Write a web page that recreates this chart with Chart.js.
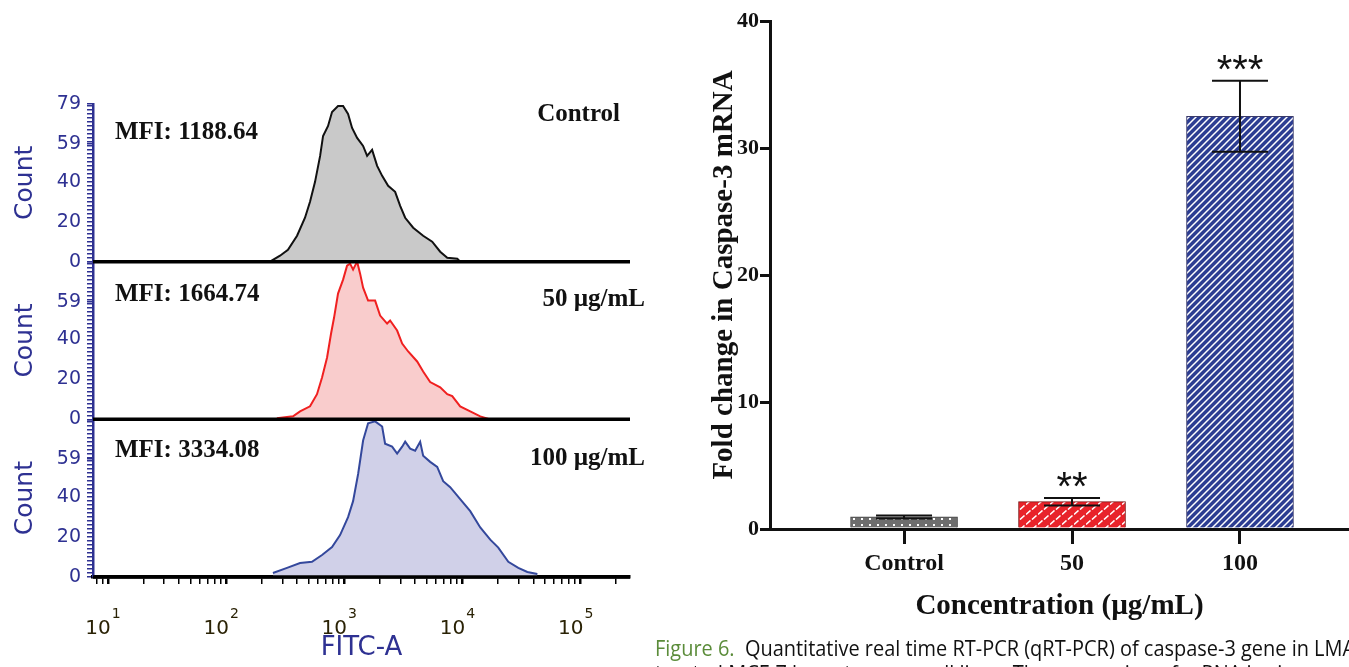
<!DOCTYPE html>
<html>
<head>
<meta charset="utf-8">
<script src="https://cdn.jsdelivr.net/npm/chart.js@4.4.1/dist/chart.umd.min.js"></script>
<style>
  html, body { margin: 0; padding: 0; background: #fff; }
  body { position: relative; width: 1349px; height: 667px; overflow: hidden; }
  #histBox { position: absolute; left: 0; top: 0; width: 660px; height: 667px; }
  #barBox { position: absolute; left: 690px; top: 0; width: 659px; height: 630px; }
  .cap { position: absolute; left: 655px; font-family: "Open Sans", sans-serif; font-size: 21px; color: #111; white-space: nowrap; transform-origin: 0 0; }
  .cap b { color: #5b8c3a; font-weight: normal; }
</style>
</head>
<body>
<div id="histBox"><canvas id="histChart" width="660" height="667"></canvas></div>
<div id="barBox"><canvas id="barChart" width="659" height="630"></canvas></div>
<div class="cap" id="cap1" style="top:634px"><b>Figure 6.</b>&nbsp; Quantitative real time RT-PCR (qRT-PCR) of caspase-3 gene in LMA</div>
<div class="cap" id="cap2" style="top:659px">treated MCF-7 breast cancer cell lines. The expression of mRNA is given and</div>
<script>
// histogramas (FITC-A, escala log)
const ctrlFitc = [236, 287, 335, 400, 467, 515, 568, 627, 664, 732, 791, 889, 981, 1081, 1169, 1290, 1449, 1567, 1727, 1905, 2100, 2360, 2705, 2984, 3290, 3845, 4670, 5570, 6510, 7470, 9080, 9610];
const ctrlCount = [0, 3, 6, 13, 22, 30, 40, 53, 63, 68, 75, 78, 78, 74, 67, 62, 58, 53, 56, 48, 43, 38, 35, 28, 22, 17, 13, 10, 5, 2, 1.5, 0];

const lowFitc = [270, 370, 424, 515, 590, 651, 718, 776, 823, 889, 981, 1060, 1124, 1192, 1290, 1367, 1449, 1597, 1831, 2019, 2313, 2453, 2812, 3102, 3487, 4155, 4670, 5355, 6510, 7470, 8230, 9610, 11690, 14210, 17270];
const lowCount = [0.5, 1.5, 4, 6.5, 12.6, 21, 31, 43, 51, 63, 70, 77, 78, 75, 79, 73, 66, 59.5, 59.5, 52, 48, 49.5, 44.5, 38, 34, 29, 24, 18.7, 16, 12.6, 11.6, 6.5, 4, 1.5, 0];

const highFitc = [250, 329, 424, 535, 651, 791, 925, 1081, 1192, 1315, 1449, 1597, 1831, 2100, 2225, 2550, 2812, 3102, 3290, 3625, 3995, 4405, 4670, 5355, 6140, 6900, 7910, 9610, 11690, 14210, 17270, 20190, 24550, 29830, 35560, 43250];
const highCount = [2, 4.6, 7, 7.6, 11, 15, 21, 30, 38, 51.6, 68.4, 77, 78, 75.4, 66.8, 65.3, 61.8, 65.3, 67.8, 64.3, 63.3, 67.8, 60.8, 57.7, 55.2, 48, 45, 39, 33, 24.8, 18.7, 14.7, 7.6, 4.6, 2.5, 1.5];

const panelNames = ['Control', '50 µg/mL', '100 µg/mL'];
const mfiValues = ['1188.64', '1664.74', '3334.08'];
const countTicks = [0, 20, 40, 59, 79];
const decades = [10, 100, 1000, 10000, 100000];

// qRT-PCR caspase-3
const concLabels = ['Control', '50', '100'];
const foldMean = [0.95, 2.15, 32.5];
const foldErr = [0.12, 0.3, 2.8];
const foldStars = ['', '**', '***'];
const foldTicks = [0, 10, 20, 30, 40];

const blue = '#2e3192';

const toPoints = (xs, ys) => xs.map((x, i) => ({ x: x, y: ys[i] }));

// eixos empilhados: um por painel
const panelAxes = ['y1', 'y2', 'y3'];
const mfiDy = [29, 33, 31];
const nameDy = [11, 38, 39];
const nameRight = [620, 645, 645];

const panelScale = (showTop) => ({
    type: 'linear',
    position: 'left',
    stack: 'hist',
    stackWeight: 1,
    min: 0,
    max: 79,
    afterFit: (s) => { s.width = 93; },
    afterBuildTicks: (s) => {
        const t = [];
        for (let v = 0; v <= 78; v += 2) t.push(v);
        countTicks.forEach(v => { if (!t.includes(v)) t.push(v); });
        t.sort((a, b) => a - b);
        s.ticks = t.map(v => ({ value: v }));
    },
    ticks: {
        autoSkip: false,
        padding: 6,
        color: blue,
        font: { family: 'DejaVu Sans', size: 19 },
        callback: (v) => (countTicks.includes(v) && (v !== 79 || showTop)) ? String(v) : ''
    },
    grid: { drawOnChartArea: false, tickLength: 6, color: blue, lineWidth: 1.5 },
    border: { display: true, color: blue, width: 2.5 },
    title: {
        display: true, text: 'Count', color: blue,
        font: { family: 'DejaVu Sans', size: 25 },
        padding: { top: 10, bottom: 0 }
    }
});

const panelLayer = {
    id: 'panelLayer',
    afterDatasetsDraw(chart) {
        const { ctx, chartArea } = chart;
        ctx.save();
        panelAxes.forEach((id, i) => {
            const s = chart.scales[id];
            const y0 = s.getPixelForValue(0);
            ctx.strokeStyle = '#000';
            ctx.lineWidth = 3.5;
            ctx.beginPath();
            ctx.moveTo(chartArea.left, y0);
            ctx.lineTo(chartArea.right, y0);
            ctx.stroke();

            ctx.fillStyle = '#111';
            ctx.font = 'bold 25px "Liberation Serif"';
            ctx.textBaseline = 'middle';
            ctx.textAlign = 'left';
            ctx.fillText('MFI: ' + mfiValues[i], chartArea.left + 22, s.top + mfiDy[i]);
            ctx.textAlign = 'right';
            ctx.fillText(panelNames[i], nameRight[i], s.top + nameDy[i]);
        });

        // rótulos 10^n do eixo x
        const x = chart.scales.x;
        ctx.fillStyle = '#2a2205';
        ctx.textAlign = 'left';
        ctx.textBaseline = 'middle';
        decades.forEach((v, i) => {
            const px = x.getPixelForValue(v);
            ctx.font = '20px "DejaVu Sans"';
            const w1 = ctx.measureText('10').width;
            const x0 = px - w1 + 3;
            ctx.fillText('10', x0, x.top + 52);
            ctx.font = '14px "DejaVu Sans"';
            ctx.fillText(String(i + 1), x0 + w1 + 1, x.top + 37);
        });
        ctx.restore();
    }
};

const histLine = (xs, ys, axis, line, fill) => ({
    data: toPoints(xs, ys),
    yAxisID: axis,
    borderColor: line,
    backgroundColor: fill,
    borderWidth: 2,
    fill: 'origin',
    pointRadius: 0,
    tension: 0
});

new Chart(document.getElementById('histChart'), {
    type: 'line',
    data: {
        datasets: [
            histLine(ctrlFitc, ctrlCount, 'y1', '#111111', '#c9c9c9'),
            histLine(lowFitc, lowCount, 'y2', '#f02020', '#f9cccc'),
            histLine(highFitc, highCount, 'y3', '#34489c', '#d0d0e8')
        ]
    },
    options: {
        responsive: false,
        animation: false,
        layout: { padding: { top: 104, right: 30, bottom: 0, left: 0 } },
        plugins: { legend: { display: false }, tooltip: { enabled: false } },
        scales: {
            x: {
                type: 'logarithmic',
                min: 7.5,
                max: 263000,
                afterFit: (s) => { s.height = 90; },
                afterBuildTicks: (s) => {
                    const t = [];
                    for (let e = 0; e <= 5; e++) {
                        for (let m = 1; m <= 9; m++) {
                            const v = m * Math.pow(10, e);
                            if (v >= s.min && v <= s.max) t.push({ value: v });
                        }
                    }
                    s.ticks = t;
                },
                ticks: {
                    autoSkip: false,
                    maxRotation: 0,
                    callback: () => ''
                },
                grid: {
                    drawOnChartArea: false,
                    tickLength: 7,
                    color: '#000',
                    lineWidth: (c) => (c.tick && decades.includes(c.tick.value)) ? 2.5 : 1.5
                },
                border: { display: true, color: '#000', width: 3.5 },
                title: {
                    display: true, text: 'FITC-A', color: blue,
                    font: { family: 'DejaVu Sans', size: 26 },
                    padding: { top: 0, bottom: 3 }
                }
            },
            y3: panelScale(false),
            y2: panelScale(false),
            y1: panelScale(true)
        }
    },
    plugins: [panelLayer]
});

// padrões das barras
const makePattern = (w, h, bg, draw) => {
    const c = document.createElement('canvas');
    c.width = w;
    c.height = h;
    const g = c.getContext('2d');
    g.fillStyle = bg;
    g.fillRect(0, 0, w, h);
    g.strokeStyle = '#fff';
    g.fillStyle = '#fff';
    draw(g);
    return g.createPattern(c, 'repeat');
};

const ctrlPattern = makePattern(8, 6, '#6e6e6e', g => { g.fillRect(3, 2, 2, 2); });
const lowPattern = makePattern(12, 10, '#e8232a', g => {
    g.lineWidth = 1.6;
    g.beginPath();
    g.moveTo(0, 4.5); g.lineTo(4.5, 0.5);
    g.moveTo(6, 9.5); g.lineTo(10.5, 5.5);
    g.stroke();
});
const highPattern = makePattern(7, 7, '#2c3d92', g => {
    g.lineWidth = 1.5;
    g.beginPath();
    g.moveTo(0, 7); g.lineTo(7, 0);
    g.moveTo(-1, 1); g.lineTo(1, -1);
    g.moveTo(6, 8); g.lineTo(8, 6);
    g.stroke();
});

const errorBars = {
    id: 'errorBars',
    afterDatasetsDraw(chart) {
        const { ctx, scales: { x, y } } = chart;
        ctx.save();
        ctx.strokeStyle = '#111';
        ctx.lineWidth = 2;
        foldMean.forEach((m, i) => {
            const px = x.getPixelForValue(i);
            const top = y.getPixelForValue(m + foldErr[i]);
            const bot = y.getPixelForValue(m - foldErr[i]);
            ctx.beginPath();
            ctx.moveTo(px, top); ctx.lineTo(px, bot);
            ctx.moveTo(px - 28, top); ctx.lineTo(px + 28, top);
            ctx.moveTo(px - 28, bot); ctx.lineTo(px + 28, bot);
            ctx.stroke();
            if (foldStars[i]) {
                ctx.fillStyle = '#111';
                ctx.font = '40px "Liberation Sans"';
                ctx.textAlign = 'center';
                ctx.textBaseline = 'alphabetic';
                ctx.fillText(foldStars[i], px, top + 2);
            }
        });
        ctx.restore();
    }
};

const serif = '"Liberation Serif", "Times New Roman", serif';

new Chart(document.getElementById('barChart'), {
    type: 'bar',
    data: {
        datasets: [{
            data: concLabels.map((_, i) => ({ x: i, y: foldMean[i] })),
            backgroundColor: [ctrlPattern, lowPattern, highPattern],
            borderColor: ['#444', '#7a1010', '#3a3a6a'],
            borderWidth: 1,
            barThickness: 107
        }]
    },
    options: {
        responsive: false,
        animation: false,
        layout: { padding: { top: 21, right: 0, bottom: 2, left: 17 } },
        plugins: { legend: { display: false }, tooltip: { enabled: false } },
        scales: {
            x: {
                type: 'linear',
                min: -0.798,
                max: 2.649,
                offset: false,
                afterFit: (s) => { s.height = 99; },
                afterBuildTicks: (s) => { s.ticks = concLabels.map((_, i) => ({ value: i })); },
                ticks: {
                    autoSkip: false,
                    maxRotation: 0,
                    padding: 5,
                    color: '#111',
                    font: { family: serif, size: 24, weight: 'bold' },
                    callback: (v) => concLabels[v]
                },
                grid: { drawOnChartArea: false, offset: false, tickLength: 15, color: '#111', lineWidth: 3 },
                border: { display: true, color: '#111', width: 3 },
                title: {
                    display: true, text: 'Concentration (µg/mL)', color: '#111',
                    font: { family: serif, size: 29, weight: 'bold' },
                    padding: { top: 0, bottom: 4 }
                }
            },
            y: {
                min: 0,
                max: 40,
                afterFit: (s) => { s.width = 63; },
                afterBuildTicks: (s) => { s.ticks = foldTicks.map(v => ({ value: v })); },
                ticks: {
                    padding: 1,
                    color: '#111',
                    font: { family: serif, size: 22, weight: 'bold' }
                },
                grid: { drawOnChartArea: false, tickLength: 10, color: '#111', lineWidth: 3 },
                border: { display: true, color: '#111', width: 3 },
                title: {
                    display: true, text: 'Fold change in Caspase-3 mRNA', color: '#111',
                    font: { family: serif, size: 29, weight: 'bold' },
                    padding: { top: 0, bottom: 0 }
                }
            }
        }
    },
    plugins: [errorBars]
});

// legenda da figura: ajustar largura da primeira linha
const cap1 = document.getElementById('cap1');
const cap2 = document.getElementById('cap2');
const k = 700 / cap1.offsetWidth;
cap1.style.transform = 'scaleX(' + k + ')';
cap2.style.transform = 'scaleX(' + k + ')';
</script>
</body>
</html>
